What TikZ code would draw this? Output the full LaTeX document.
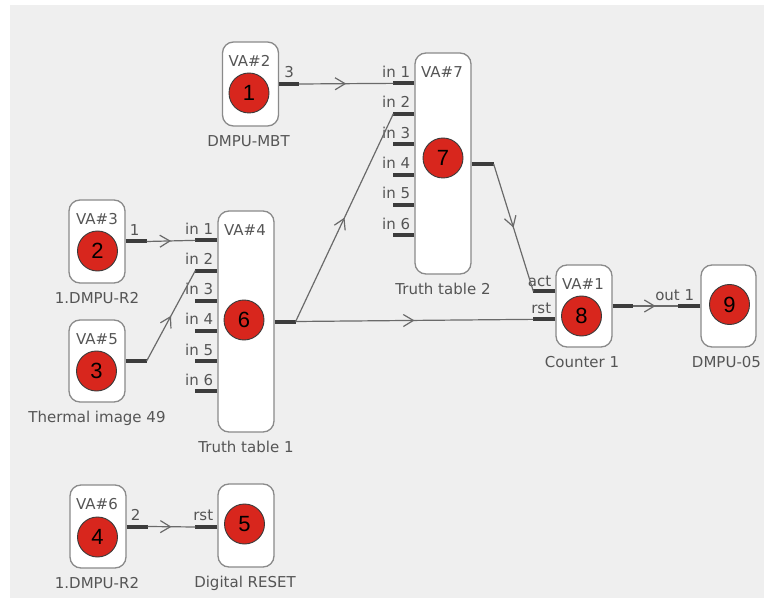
\documentclass[tikz,border=0pt]{standalone}
\usepackage{fontspec}
\usetikzlibrary{calc,arrows.meta,decorations.markings}
\newfontfamily\lblfont{DejaVu Sans}
\newfontfamily\digfont{Liberation Sans}
\definecolor{panelgray}{HTML}{EFEFEF}
\definecolor{boxedge}{HTML}{8A8A8A}
\definecolor{dotred}{HTML}{D8261D}
\definecolor{dotedge}{HTML}{3A3A3A}
\definecolor{pinedge}{HTML}{3C3C3C}
\definecolor{wireedge}{HTML}{6A6A6A}
\definecolor{textgray}{HTML}{555555}

\begin{document}
\begin{tikzpicture}[x=1pt, y=-1pt,
	blockbox/.style={draw=boxedge, fill=white, line width=1.3pt, rounded corners=11pt, minimum width=56pt, inner sep=0pt},
	numdot/.style={circle, draw=dotedge, fill=dotred, line width=0.9pt, minimum size=40pt, inner sep=0pt, font=\digfont\fontsize{22}{24}\selectfont},
	pinstub/.style={draw=pinedge, line width=4pt},
	wire/.style={draw=wireedge, line width=1.2pt, postaction={decorate},
		decoration={markings, mark=at position 0.5 with {\arrow[wireedge, line width=1.2pt]{Straight Barb[length=10pt,width=12pt]}}}},
	tag/.style={text=textgray, font=\lblfont\fontsize{15}{18}\selectfont, inner sep=0pt}]
	\useasboundingbox (0,0) rectangle (764,599);
	\fill[panelgray] (10,5) rectangle (764,598);

	% blocks
	\node[blockbox, minimum height=84pt] (b1) at (250.5,84) {};
	\node[blockbox, minimum height=83pt] (b2) at (97,241.5) {};
	\node[blockbox, minimum height=82pt] (b3) at (97,361) {};
	\node[blockbox, minimum height=83pt] (b4) at (98,526.5) {};
	\node[blockbox, minimum height=83pt] (b5) at (246,525.5) {};
	\node[blockbox, minimum height=221pt] (b6) at (246,321.5) {};
	\node[blockbox, minimum height=221pt] (b7) at (443,163.5) {};
	\node[blockbox, minimum height=82pt] (b8) at (584,306) {};
	\node[blockbox, minimum width=55pt, minimum height=82pt] (b9) at (728.5,306) {};

	% numbered dots
	\node[numdot] (d1) at (249,93) {1};
	\node[numdot] (d2) at (97.5,251) {2};
	\node[numdot] (d3) at (96.5,371) {3};
	\node[numdot] (d4) at (97.5,537) {4};
	\node[numdot] (d5) at (244.5,524) {5};
	\node[numdot] (d6) at (244,320) {6};
	\node[numdot] (d7) at (443,158) {7};
	\node[numdot] (d8) at (581.5,316) {8};
	\node[numdot] (d9) at (729.5,304.5) {9};

	% VA tags
	\node[tag, anchor=base] (b1va) at ($(b1.north)+(-1,25)$) {VA\#2};
	\node[tag, anchor=base] (b2va) at ($(b2.north)+(0,25)$) {VA\#3};
	\node[tag, anchor=base] (b3va) at ($(b3.north)+(0,25)$) {VA\#5};
	\node[tag, anchor=base] (b4va) at ($(b4.north)+(-1,25)$) {VA\#6};
	\node[tag, anchor=base] (b6va) at ($(b6.north)+(-1,25)$) {VA\#4};
	\node[tag, anchor=base] (b7va) at ($(b7.north)+(-1,25)$) {VA\#7};
	\node[tag, anchor=base] (b8va) at ($(b8.north)+(-1,25)$) {VA\#1};

	% captions
	\node[tag, anchor=base] (b1cap) at ($(b1.south)+(-2,20)$) {DMPU-MBT};
	\node[tag, anchor=base] (b2cap) at ($(b2.south)+(0,20)$) {1.DMPU-R2};
	\node[tag, anchor=base] (b3cap) at ($(b3.south)+(0,20)$) {Thermal image 49};
	\node[tag, anchor=base] (b4cap) at ($(b4.south)+(-1,20)$) {1.DMPU-R2};
	\node[tag, anchor=base] (b5cap) at ($(b5.south)+(-1,20)$) {Digital RESET};
	\node[tag, anchor=base] (b6cap) at ($(b6.south)+(0,20)$) {Truth table 1};
	\node[tag, anchor=base] (b7cap) at ($(b7.south)+(0,20)$) {Truth table 2};
	\node[tag, anchor=base] (b8cap) at ($(b8.south)+(-2,20)$) {Counter 1};
	\node[tag, anchor=base] (b9cap) at ($(b9.south)+(-2,20)$) {DMPU-05};

	% output pins
	\draw[pinstub] (b1.east) -- ++(20,0) coordinate (b1out);
	\node[tag, anchor=base west] (b1num) at ($(b1.east)+(5,-6)$) {3};
	\draw[pinstub] (b2.east) -- ++(21,0) coordinate (b2out);
	\node[tag, anchor=base west] (b2num) at ($(b2.east)+(4,-6)$) {1};
	\draw[pinstub] (b3.east) -- ++(21,0) coordinate (b3out);
	\draw[pinstub] (b4.east) -- ++(21,0) coordinate (b4out);
	\node[tag, anchor=base west] (b4num) at ($(b4.east)+(4,-6)$) {2};
	\draw[pinstub] (b6.east) -- ++(21,0) coordinate (b6out);
	\draw[pinstub] ($(b7.east)+(0,0.5)$) -- ++(22,0) coordinate (b7out);
	\draw[pinstub] (b8.east) -- ++(20,0) coordinate (b8out);

	% input pins
	\foreach \k in {1,...,6}{
		\draw[pinstub] ($(b6.north west)+(0,30.2*\k-0.2)$) -- ++(-22,0) coordinate (b6in\k);
		\node[tag, anchor=base east] (b6lbl\k) at ($(b6in\k)+(18,-6)$) {in \k};
		\draw[pinstub] ($(b7.north west)+(0,30.4*\k+0.6)$) -- ++(-21,0) coordinate (b7in\k);
		\node[tag, anchor=base east] (b7lbl\k) at ($(b7in\k)+(17,-6)$) {in \k};
	}
	\draw[pinstub] ($(b5.west)+(0,1.5)$) -- ++(-22,0) coordinate (b5rst);
	\node[tag, anchor=base east] (b5lbl) at ($(b5rst)+(18,-7)$) {rst};
	\draw[pinstub] ($(b8.north west)+(0,27)$) -- ++(-22,0) coordinate (b8act);
	\node[tag, anchor=base east] (b8lbla) at ($(b8act)+(18,-5)$) {act};
	\draw[pinstub] ($(b8.north west)+(0,55)$) -- ++(-22,0) coordinate (b8rst);
	\node[tag, anchor=base east] (b8lblr) at ($(b8rst)+(18,-6)$) {rst};
	\draw[pinstub] (b9.west) -- ++(-22,0) coordinate (b9in);
	\node[tag, anchor=base east] (b9lbl) at ($(b9in)+(16,-5)$) {out 1};

	% wires
	\draw[wire] (b1out) -- (b7in1);
	\draw[wire] (b2out) -- (b6in1);
	\draw[wire] (b3out) -- (b6in2);
	\draw[wire] (b4out) -- (b5rst);
	\draw[wire] (b6out) -- (b7in2);
	\draw[wire] (b6out) -- (b8rst);
	\draw[wire] (b7out) -- (b8act);
	\draw[wire] (b8out) -- (b9in);
\end{tikzpicture}
\end{document}
